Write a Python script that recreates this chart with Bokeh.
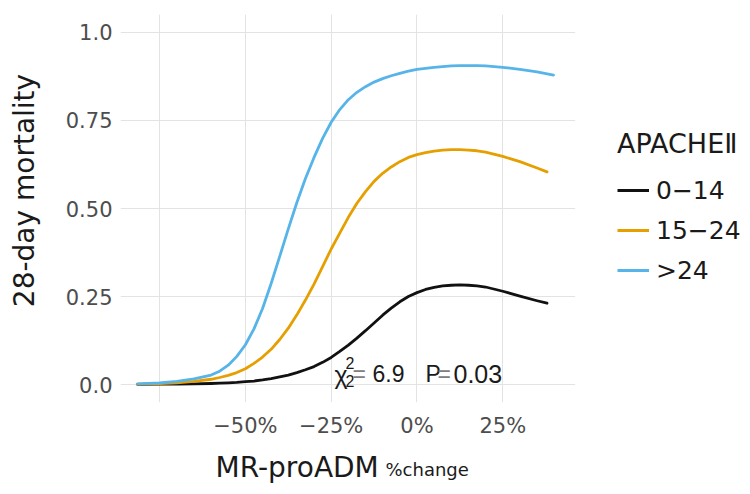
from bokeh.plotting import figure
from bokeh.models import Range1d, FixedTicker, Label, Legend, LegendItem
from bokeh.layouts import row, column
from bokeh.embed import file_html
from bokeh.resources import INLINE

# ---- data ----
groups = ["0\u221214", "15\u221224", ">24"]
colors = ["#111111", "#E69F00", "#56B4E9"]

pct_common = [-81.4, -75, -70, -65, -60, -57.5, -55, -52.5, -50, -47.5, -45, -42.5,
              -40, -37.5, -35, -32.5, -30, -27.5, -25, -22.5, -20, -17.5, -15, -12.5,
              -10, -7.5, -5, -2.5, 0, 2.5, 5, 7.5, 10, 12.5, 15, 17.5, 20, 25, 30, 35]
pct_low = pct_common + [37.9]
pct_mid = pct_common + [37.9]
pct_high = pct_common + [39.8]

mort_low = [0.0005, 0.001, 0.0015, 0.002, 0.003, 0.004, 0.005, 0.006, 0.008, 0.010, 0.013, 0.017,
            0.022, 0.027, 0.034, 0.042, 0.051, 0.063, 0.077, 0.094, 0.112, 0.132, 0.153, 0.175,
            0.197, 0.217, 0.235, 0.250, 0.261, 0.270, 0.276, 0.280, 0.282, 0.283, 0.282, 0.280,
            0.277, 0.265, 0.251, 0.238, 0.231]
mort_mid = [0.001, 0.003, 0.005, 0.009, 0.015, 0.020, 0.026, 0.034, 0.045, 0.060, 0.078, 0.100,
            0.128, 0.160, 0.198, 0.240, 0.285, 0.335, 0.385, 0.430, 0.475, 0.515, 0.548, 0.577,
            0.600, 0.618, 0.633, 0.645, 0.653, 0.659, 0.663, 0.666, 0.667, 0.667, 0.666, 0.664,
            0.660, 0.648, 0.633, 0.615, 0.604]
mort_high = [0.002, 0.005, 0.009, 0.016, 0.027, 0.038, 0.055, 0.080, 0.113, 0.158, 0.216, 0.287,
             0.364, 0.442, 0.517, 0.585, 0.645, 0.699, 0.745, 0.781, 0.809, 0.830, 0.846, 0.859,
             0.869, 0.877, 0.884, 0.890, 0.895, 0.898, 0.901, 0.903, 0.905, 0.906, 0.906, 0.906,
             0.905, 0.901, 0.895, 0.888, 0.879]

x_ticks = [-75, -50, -25, 0, 25]
x_tick_labels = ["", "\u221250%", "\u221225%", "0%", "25%"]
y_ticks = [0, 0.25, 0.5, 0.75, 1.0]
y_tick_labels = ["0.0", "0.25", "0.50", "0.75", "1.0"]

FONT = "DejaVu Sans"
AF = "Liberation Sans"
TXT = "#1a1a1a"


def blank(w, h):
    f = figure(width=w, height=h, output_backend="svg", toolbar_location=None,
               x_axis_type=None, y_axis_type=None,
               x_range=Range1d(0, 1), y_range=Range1d(0, 1), min_border=0)
    f.outline_line_color = None
    return f


def lab(fig, text, x, y, size, font=FONT, angle=0, align="left", baseline="alphabetic", color=TXT):
    fig.add_layout(Label(x=x, y=y, x_units="screen", y_units="screen", text=text, angle=angle,
                         text_font=font, text_font_size=size, text_align=align,
                         text_baseline=baseline, text_color=color))


# ---- main plot ----
p = figure(width=525, height=440, output_backend="svg", toolbar_location=None,
           x_range=Range1d(-86.4, 46.2), y_range=Range1d(-0.051, 1.051),
           min_border_left=70, min_border_right=0, min_border_top=14, min_border_bottom=30)
p.outline_line_color = None

for ax in (p.xaxis, p.yaxis):
    ax.axis_line_color = None
    ax.major_tick_line_color = None
    ax.minor_tick_line_color = None
    ax.major_label_text_font = FONT
    ax.major_label_text_font_size = "21px"
    ax.major_label_text_color = "#4d4d4d"

p.xaxis.ticker = FixedTicker(ticks=x_ticks)
p.xaxis.major_label_overrides = {t: l for t, l in zip(x_ticks, x_tick_labels)}
p.xaxis.major_label_standoff = 5
p.yaxis.ticker = FixedTicker(ticks=y_ticks)
p.yaxis.major_label_overrides = {t: l for t, l in zip(y_ticks, y_tick_labels)}
p.yaxis.major_label_standoff = 2

p.xgrid.ticker = FixedTicker(ticks=x_ticks)
p.ygrid.ticker = FixedTicker(ticks=y_ticks)
for g in (p.xgrid, p.ygrid):
    g.grid_line_color = "#e3e3e3"
    g.grid_line_width = 1

for xs, ys, c in zip([pct_low, pct_mid, pct_high], [mort_low, mort_mid, mort_high], colors):
    p.line(xs, ys, line_color=c, line_width=2.8, line_cap="round", line_join="round")

# chi-square annotation (inside the plot area)
lab(p, "\u03c7", 214, 28, "25px", font=AF)
lab(p, "2", 225, 40, "16px", font=AF)
lab(p, "2", 225, 22, "16px", font=AF)
lab(p, "=", 232, 29, "23px", font=AF, color="#808080")
lab(p, "6.9", 252, 29, "23px", font=AF)
lab(p, "P", 305, 29, "23px", font=AF)
lab(p, "=", 317, 29, "23px", font=AF, color="#808080")
lab(p, "0.03", 333, 29, "25px", font=AF)

# ---- y-axis title panel ----
p_y = blank(50, 440)
lab(p_y, "28-day mortality", 24, 212, "28px", angle=1.5707963, align="center", baseline="middle")

# ---- legend panel ----
p_leg = blank(170, 440)
nan = float("nan")
leg_renderers = [p_leg.line([nan], [nan], line_color=c, line_width=2.8) for c in colors]
legend = Legend(items=[LegendItem(label=g, renderers=[r]) for g, r in zip(groups, leg_renderers)],
                title="APACHE\u2161", location=(42, 112))
legend.title_text_font = FONT
legend.title_text_font_size = "27px"
legend.title_text_font_style = "normal"
legend.title_text_color = TXT
legend.title_standoff = 11
legend.label_text_font = FONT
legend.label_text_font_size = "25px"
legend.label_text_color = TXT
legend.glyph_width = 32
legend.glyph_height = 40
legend.label_height = 40
legend.label_standoff = 7
legend.spacing = 0
legend.padding = 0
legend.margin = 0
legend.border_line_alpha = 0
legend.background_fill_alpha = 0
p_leg.add_layout(legend)

# ---- x-axis title panel ----
p_x = blank(745, 50)
lab(p_x, "MR-proADM", 215, 23, "28px")
lab(p_x, "%change", 385, 21, "18px")

layout = column(row(p_y, p, p_leg), p_x)
open("out.html", "w").write(file_html(layout, INLINE))
